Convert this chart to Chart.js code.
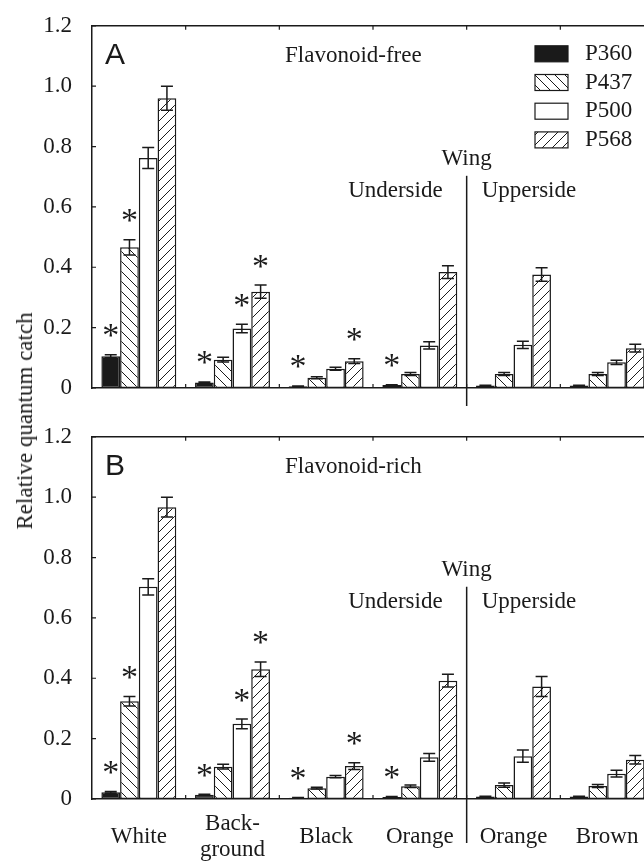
<!DOCTYPE html>
<html>
<head>
<meta charset="utf-8">
<script src="https://cdn.jsdelivr.net/npm/chart.js@4"></script>
<style>
    html, body { margin: 0; padding: 0; width: 644px; height: 863px; overflow: hidden; background: #fff; }
    .panel { position: absolute; left: 0; width: 660px; }
    #ytitle {
        position: absolute; left: 25px; top: 421px;
        transform: translate(-50%, -50%) rotate(-90deg);
        font: 23px "Liberation Serif", serif; color: #1a1a1a; white-space: nowrap;
    }
</style>
</head>
<body>
<div class="panel" style="top:0; height:420px;"><canvas id="chartA"></canvas></div>
<div class="panel" style="top:411px; height:452px;"><canvas id="chartB"></canvas></div>
<div id="ytitle">Relative quantum catch</div>

<script>
// categories and series
var groups = ['White', ['Back-', 'ground'], 'Black', 'Orange', 'Orange', 'Brown'];
var pigments = ['P360', 'P437', 'P500', 'P568'];
var yTickLabels = ['0', '0.2', '0.4', '0.6', '0.8', '1.0', '1.2'];

// PANEL A ( flavonoid-free )
var freeP360 = [0.105, 0.018, 0.006, 0.010, 0.008, 0.008];
var freeP437 = [0.466, 0.094, 0.034, 0.046, 0.046, 0.046];
var freeP500 = [0.762, 0.197, 0.064, 0.141, 0.143, 0.085];
var freeP568 = [0.960, 0.319, 0.089, 0.384, 0.376, 0.132];
var freeErrP360 = [0.005, 0.002, 0.001, 0.001, 0.001, 0.001];
var freeErrP437 = [0.025, 0.008, 0.003, 0.005, 0.005, 0.005];
var freeErrP500 = [0.035, 0.014, 0.005, 0.012, 0.012, 0.007];
var freeErrP568 = [0.040, 0.022, 0.008, 0.021, 0.022, 0.013];

// PANEL B ( flavonoid-rich )
var richP360 = [0.022, 0.014, 0.004, 0.007, 0.008, 0.008];
var richP437 = [0.324, 0.107, 0.036, 0.042, 0.046, 0.043];
var richP500 = [0.703, 0.249, 0.074, 0.138, 0.142, 0.084];
var richP568 = [0.967, 0.430, 0.109, 0.392, 0.373, 0.130];
var richErrP360 = [0.003, 0.002, 0.001, 0.001, 0.001, 0.001];
var richErrP437 = [0.016, 0.008, 0.003, 0.004, 0.007, 0.005];
var richErrP500 = [0.027, 0.016, 0.004, 0.013, 0.020, 0.011];
var richErrP568 = [0.033, 0.024, 0.011, 0.021, 0.033, 0.014];

// significance stars (same in both panels)
var starsP360 = [1, 1, 1, 1, 0, 0];
var starsP437 = [1, 0, 0, 0, 0, 0];
var starsP500 = [0, 1, 0, 0, 0, 0];
var starsP568 = [0, 1, 1, 0, 0, 0];

var INK = '#1a1a1a';
var SERIF = '"Liberation Serif", serif';

function hatch(dir) {
    var c = document.createElement('canvas');
    c.width = 10; c.height = 10;
    var g = c.getContext('2d');
    g.fillStyle = '#fff';
    g.fillRect(0, 0, 10, 10);
    g.strokeStyle = INK;
    g.lineWidth = 1;
    g.beginPath();
    if (dir === 'back') {   // "\"
        g.moveTo(-2, -2); g.lineTo(12, 12);
        g.moveTo(-2, 8); g.lineTo(2, 12);
        g.moveTo(8, -2); g.lineTo(12, 2);
    } else {                // "/"
        g.moveTo(-2, 12); g.lineTo(12, -2);
        g.moveTo(-2, 2); g.lineTo(2, -2);
        g.moveTo(8, 12); g.lineTo(12, 8);
    }
    g.stroke();
    return g.createPattern(c, 'repeat');
}

var fills = [INK, hatch('back'), '#fff', hatch('fwd')];
var stars = [starsP360, starsP437, starsP500, starsP568];

function makeDatasets(values, errors) {
    return pigments.map(function (p, i) {
        return {
            label: p,
            data: values[i],
            errors: errors[i],
            stars: stars[i],
            backgroundColor: fills[i],
            borderColor: INK,
            borderWidth: 1.5,
            borderSkipped: false,
            categoryPercentage: 0.8,
            barPercentage: 1.0
        };
    });
}

// error bars, stars, frame, texts, legend
var decor = {
    id: 'decor',
    afterDraw: function (chart, args, o) {
        var ctx = chart.ctx;
        var a = chart.chartArea;
        var xs = chart.scales.x, ys = chart.scales.y;
        ctx.save();
        ctx.strokeStyle = INK;
        ctx.fillStyle = INK;
        ctx.lineWidth = 1.5;

        // error bars + stars
        ctx.font = '34px ' + SERIF;
        ctx.textAlign = 'center';
        ctx.textBaseline = 'alphabetic';
        var m = ctx.measureText('*');
        var starShift = (m.actualBoundingBoxAscent - m.actualBoundingBoxDescent) / 2;
        chart.data.datasets.forEach(function (ds, i) {
            chart.getDatasetMeta(i).data.forEach(function (bar, j) {
                var v = ds.data[j], e = ds.errors[j];
                var top = ys.getPixelForValue(v + e);
                var bot = ys.getPixelForValue(Math.max(0, v - e));
                ctx.beginPath();
                ctx.moveTo(bar.x, bot); ctx.lineTo(bar.x, top);
                ctx.moveTo(bar.x - 6, top); ctx.lineTo(bar.x + 6, top);
                ctx.moveTo(bar.x - 6, bot); ctx.lineTo(bar.x + 6, bot);
                ctx.stroke();
                if (ds.stars[j]) {
                    ctx.fillText('*', bar.x, top - 24 + starShift);
                }
            });
        });

        // top frame line
        ctx.beginPath();
        ctx.moveTo(a.left, a.top); ctx.lineTo(a.right, a.top);
        ctx.stroke();

        // inward ticks at group boundaries and y ticks
        ctx.lineWidth = 1.2;
        ctx.beginPath();
        for (var k = 1; k < groups.length; k++) {
            var bx = (xs.getPixelForValue(k - 1) + xs.getPixelForValue(k)) / 2;
            ctx.moveTo(bx, a.top); ctx.lineTo(bx, a.top + 4);
            ctx.moveTo(bx, a.bottom); ctx.lineTo(bx, a.bottom - 4);
        }
        ys.ticks.forEach(function (t) {
            var ty = ys.getPixelForValue(t.value);
            ctx.moveTo(a.left, ty); ctx.lineTo(a.left + 4, ty);
        });
        ctx.stroke();

        // underside / upperside separator
        var sepX = (xs.getPixelForValue(3) + xs.getPixelForValue(4)) / 2;
        ctx.lineWidth = 1.5;
        ctx.beginPath();
        ctx.moveTo(sepX, a.top + 150); ctx.lineTo(sepX, a.bottom + o.sepBelow);
        ctx.stroke();

        // panel letter
        ctx.font = '30px "Liberation Sans", sans-serif';
        ctx.textAlign = 'left';
        ctx.textBaseline = 'alphabetic';
        ctx.fillText(o.letter, a.left + 13, a.top + 38);

        // texts
        ctx.font = '23px ' + SERIF;
        ctx.textBaseline = 'middle';
        ctx.fillText(o.title, a.left + 193, a.top + 30);
        ctx.textAlign = 'center';
        ctx.fillText('Wing', sepX, a.top + 133);
        ctx.textAlign = 'right';
        ctx.fillText('Underside', sepX - 24, a.top + 165);
        ctx.textAlign = 'left';
        ctx.fillText('Upperside', sepX + 15, a.top + 165);

        // legend
        if (o.legend) {
            ctx.lineWidth = 1.2;
            chart.data.datasets.forEach(function (ds, i) {
                var cy = a.top + 28 + i * 28.7;
                ctx.fillStyle = ds.backgroundColor;
                ctx.fillRect(535, cy - 8, 33, 16);
                ctx.strokeRect(535, cy - 8, 33, 16);
                ctx.fillStyle = INK;
                ctx.fillText(ds.label, 585, cy);
            });
        }
        ctx.restore();
    }
};

function makeChart(id, values, errors, o) {
    var ctx = document.getElementById(id).getContext('2d');
    return new Chart(ctx, {
        type: 'bar',
        data: {
            labels: groups,
            datasets: makeDatasets(values, errors)
        },
        options: {
            responsive: true,
            maintainAspectRatio: false,
            animation: false,
            layout: { padding: { top: 22, right: 6, left: 0, bottom: 0 } },
            scales: {
                x: {
                    grid: { display: false },
                    border: { color: INK, width: 1.5 },
                    ticks: {
                        display: o.xLabels,
                        autoSkip: false,
                        maxRotation: 0,
                        crossAlign: 'center',
                        padding: 17,
                        color: INK,
                        font: { family: SERIF, size: 23, lineHeight: 1.15 }
                    },
                    afterFit: function (s) { s.height = o.xHeight; }
                },
                y: {
                    min: 0,
                    max: 1.2,
                    grid: { display: false },
                    border: { color: INK, width: 1.5 },
                    ticks: {
                        stepSize: 0.2,
                        padding: 12,
                        color: INK,
                        font: { family: SERIF, size: 23 },
                        callback: function (v, i) { return yTickLabels[i]; }
                    },
                    afterFit: function (s) { s.width = 92; }
                }
            },
            plugins: {
                legend: { display: false },
                tooltip: { enabled: false },
                decor: o
            }
        },
        plugins: [decor]
    });
}

makeChart('chartA',
    [freeP360, freeP437, freeP500, freeP568],
    [freeErrP360, freeErrP437, freeErrP500, freeErrP568],
    { letter: 'A', title: 'Flavonoid-free', legend: true, xLabels: false, xHeight: 32, sepBelow: 18 });

makeChart('chartB',
    [richP360, richP437, richP500, richP568],
    [richErrP360, richErrP437, richErrP500, richErrP568],
    { letter: 'B', title: 'Flavonoid-rich', legend: false, xLabels: true, xHeight: 64, sepBelow: 44 });
</script>
</body>
</html>
